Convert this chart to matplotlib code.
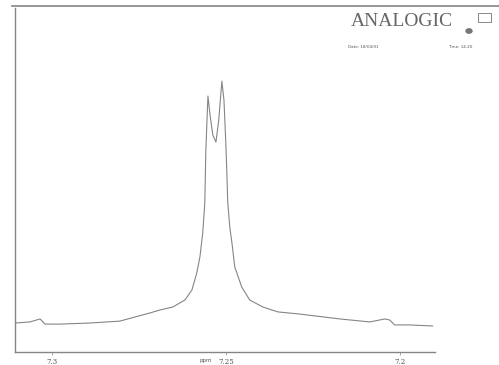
import matplotlib.pyplot as plt
from matplotlib.lines import Line2D
from matplotlib.patches import Rectangle

# spectrum trace (ppm, relative intensity)
ppm = [7.3106, 7.3063, 7.3034, 7.3020, 7.2977, 7.2891, 7.2805, 7.2719, 7.2690,
       7.2653, 7.2618, 7.2598, 7.2584, 7.2575, 7.2567, 7.2561, 7.2558, 7.2552,
       7.2546, 7.2538, 7.2529, 7.2521, 7.2512, 7.2506, 7.2501, 7.2498, 7.2495,
       7.2489, 7.2483, 7.2475, 7.2455, 7.2432, 7.2394, 7.2351, 7.2288, 7.2173,
       7.2087, 7.2044, 7.2030, 7.2016, 7.1973, 7.1907]
intensity = [10.7, 11.1, 12.2, 10.3, 10.3, 10.7, 11.4, 14.4, 15.5,
             16.6, 19.2, 22.9, 29.2, 35.1, 43.9, 55.0, 74.5, 94.5,
             87.5, 80.1, 77.5, 85.6, 100.0, 93.0, 78.2, 67.2, 55.0,
             45.8, 40.2, 31.4, 24.0, 19.2, 16.6, 14.8, 14.0, 12.2,
             11.1, 12.2, 11.8, 10.0, 10.0, 9.6]
tick_pos = [7.30, 7.25, 7.20]
tick_lbl = ["7.3", "7.25", "7.2"]

ink = '#858585'
W, H = 499, 365
fig = plt.figure(figsize=(W / 100, H / 100), dpi=100)
ax = fig.add_axes([15 / W, 1 - 352 / H, 420 / W, 344 / H])

ax.plot(ppm, intensity, color=ink, lw=0.8)
ax.set_xlim(7.3106, 7.1900)
ax.set_ylim(0, 127)

for s in ['top', 'right']:
    ax.spines[s].set_visible(False)
for s in ['left', 'bottom']:
    ax.spines[s].set_color(ink)
    ax.spines[s].set_linewidth(1.0)
ax.set_yticks([])
ax.set_xticks(tick_pos)
ax.set_xticklabels(tick_lbl, fontsize=5, color='#555555', family='DejaVu Serif')
ax.tick_params(axis='x', length=2, width=0.5, color=ink, pad=2)
ax.text(7.2558, -2.2, "ppm", fontsize=4, color='#555555', ha='center', va='top')

# top border of the chart paper
fig.add_artist(Line2D([12 / W, 1.0], [1 - 6 / H, 1 - 6 / H], color=ink, lw=1.2))

# plotter header
fig.text(402 / W, 1 - 22 / H, "ANALOGIC", fontsize=14, color='#666666',
         family='Liberation Serif', ha='center', va='center')
fig.add_artist(plt.Circle((469 / W, 1 - 31 / H), 0.006, color='#777777',
                          transform=fig.transFigure))
fig.add_artist(Rectangle((478 / W, 1 - 22 / H), 13 / W, 9 / H, fill=False,
                         ec='#888888', lw=0.7, transform=fig.transFigure))
fig.text(348 / W, 1 - 47 / H, "Date: 18/04/91", fontsize=3, color='#555555', va='center')
fig.text(448 / W, 1 - 47 / H, "Time: 14:20", fontsize=3, color='#555555', va='center')

fig.savefig('out.png', dpi=100)
